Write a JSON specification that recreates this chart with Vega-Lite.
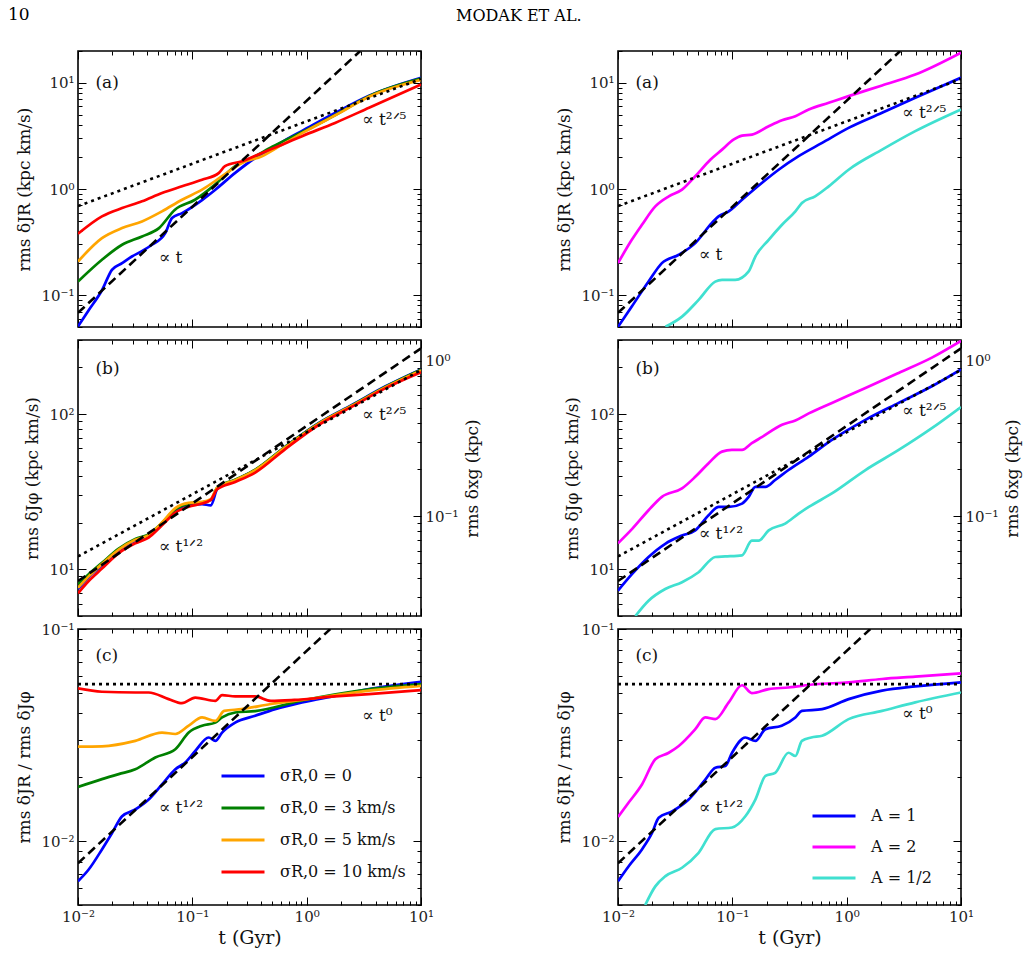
{
"$schema": "https://vega.github.io/schema/vega-lite/v6.json",
"background": "white",
"padding": {"left": 7, "top": 5, "right": 5, "bottom": 5},
"config": {
 "view": {"stroke": "black", "strokeWidth": 1.6},
 "axis": {"labelFont": "DejaVu Serif", "labelFontSize": 15, "labelColor": "#222", "titleFont": "DejaVu Serif", "titleFontSize": 17, "titleFontWeight": "normal", "titleColor": "#111", "tickColor": "black", "tickWidth": 1, "grid": false, "domain": false, "labelOverlap": false, "labelFlush": false, "labelBound": false, "labelPadding": 12, "titlePadding": 7},
 "text": {"font": "DejaVu Serif", "fontSize": 17, "align": "left", "baseline": "middle", "color": "#111"},
 "legend": {"labelFont": "DejaVu Serif", "labelFontSize": 16, "labelColor": "#111"},
 "line": {"interpolate": "monotone"}
},
"datasets": {
 "a1": [
  {"t":0.01,"v":0.0507,"s":"σR,0 = 0"},{"t":0.0124,"v":0.072,"s":"σR,0 = 0"},{"t":0.0162,"v":0.111,"s":"σR,0 = 0"},{"t":0.0198,"v":0.173,"s":"σR,0 = 0"},{"t":0.0243,"v":0.2,"s":"σR,0 = 0"},{"t":0.0296,"v":0.231,"s":"σR,0 = 0"},{"t":0.0363,"v":0.26,"s":"σR,0 = 0"},{"t":0.0443,"v":0.298,"s":"σR,0 = 0"},{"t":0.058,"v":0.384,"s":"σR,0 = 0"},{"t":0.0664,"v":0.532,"s":"σR,0 = 0"},{"t":0.0813,"v":0.593,"s":"σR,0 = 0"},{"t":0.1216,"v":0.787,"s":"σR,0 = 0"},{"t":0.158,"v":0.98,"s":"σR,0 = 0"},{"t":0.237,"v":1.42,"s":"σR,0 = 0"},{"t":0.354,"v":1.96,"s":"σR,0 = 0"},{"t":0.469,"v":2.34,"s":"σR,0 = 0"},{"t":0.702,"v":3.03,"s":"σR,0 = 0"},{"t":0.912,"v":3.53,"s":"σR,0 = 0"},{"t":1.77,"v":5.2,"s":"σR,0 = 0"},{"t":3.51,"v":7.57,"s":"σR,0 = 0"},{"t":10,"v":11.2,"s":"σR,0 = 0"},
  {"t":0.01,"v":0.134,"s":"σR,0 = 3 km/s"},{"t":0.0162,"v":0.215,"s":"σR,0 = 3 km/s"},{"t":0.0243,"v":0.298,"s":"σR,0 = 3 km/s"},{"t":0.0363,"v":0.357,"s":"σR,0 = 3 km/s"},{"t":0.0511,"v":0.428,"s":"σR,0 = 3 km/s"},{"t":0.0705,"v":0.638,"s":"σR,0 = 3 km/s"},{"t":0.1055,"v":0.792,"s":"σR,0 = 3 km/s"},{"t":0.158,"v":1.1,"s":"σR,0 = 3 km/s"},{"t":0.237,"v":1.64,"s":"σR,0 = 3 km/s"},{"t":0.354,"v":2.04,"s":"σR,0 = 3 km/s"},{"t":0.5,"v":2.5,"s":"σR,0 = 3 km/s"},{"t":0.7,"v":3.0,"s":"σR,0 = 3 km/s"},{"t":1,"v":3.6,"s":"σR,0 = 3 km/s"},{"t":2,"v":5.35,"s":"σR,0 = 3 km/s"},{"t":3.5,"v":7.5,"s":"σR,0 = 3 km/s"},{"t":10,"v":11.0,"s":"σR,0 = 3 km/s"},
  {"t":0.01,"v":0.207,"s":"σR,0 = 5 km/s"},{"t":0.0162,"v":0.344,"s":"σR,0 = 5 km/s"},{"t":0.0243,"v":0.428,"s":"σR,0 = 5 km/s"},{"t":0.0363,"v":0.495,"s":"σR,0 = 5 km/s"},{"t":0.0543,"v":0.616,"s":"σR,0 = 5 km/s"},{"t":0.0813,"v":0.792,"s":"σR,0 = 5 km/s"},{"t":0.1216,"v":0.986,"s":"σR,0 = 5 km/s"},{"t":0.182,"v":1.32,"s":"σR,0 = 5 km/s"},{"t":0.272,"v":1.76,"s":"σR,0 = 5 km/s"},{"t":0.406,"v":2.04,"s":"σR,0 = 5 km/s"},{"t":0.611,"v":2.62,"s":"σR,0 = 5 km/s"},{"t":1,"v":3.55,"s":"σR,0 = 5 km/s"},{"t":2,"v":5.3,"s":"σR,0 = 5 km/s"},{"t":3.5,"v":7.4,"s":"σR,0 = 5 km/s"},{"t":10,"v":10.7,"s":"σR,0 = 5 km/s"},
  {"t":0.01,"v":0.378,"s":"σR,0 = 10 km/s"},{"t":0.0162,"v":0.552,"s":"σR,0 = 10 km/s"},{"t":0.0243,"v":0.661,"s":"σR,0 = 10 km/s"},{"t":0.0363,"v":0.765,"s":"σR,0 = 10 km/s"},{"t":0.0543,"v":0.917,"s":"σR,0 = 10 km/s"},{"t":0.0813,"v":1.06,"s":"σR,0 = 10 km/s"},{"t":0.1216,"v":1.22,"s":"σR,0 = 10 km/s"},{"t":0.171,"v":1.42,"s":"σR,0 = 10 km/s"},{"t":0.193,"v":1.64,"s":"σR,0 = 10 km/s"},{"t":0.272,"v":1.83,"s":"σR,0 = 10 km/s"},{"t":0.406,"v":2.19,"s":"σR,0 = 10 km/s"},{"t":0.611,"v":2.62,"s":"σR,0 = 10 km/s"},{"t":0.912,"v":3.15,"s":"σR,0 = 10 km/s"},{"t":1.77,"v":4.2,"s":"σR,0 = 10 km/s"},{"t":3.51,"v":5.83,"s":"σR,0 = 10 km/s"},{"t":10,"v":9.68,"s":"σR,0 = 10 km/s"}
 ],
 "a2": [
  {"t":0.01,"v":0.0502,"s":"A = 1"},{"t":0.0132,"v":0.078,"s":"A = 1"},{"t":0.0185,"v":0.134,"s":"A = 1"},{"t":0.0242,"v":0.2,"s":"A = 1"},{"t":0.034,"v":0.24,"s":"A = 1"},{"t":0.0474,"v":0.309,"s":"A = 1"},{"t":0.066,"v":0.477,"s":"A = 1"},{"t":0.0758,"v":0.552,"s":"A = 1"},{"t":0.093,"v":0.615,"s":"A = 1"},{"t":0.1216,"v":0.793,"s":"A = 1"},{"t":0.181,"v":1.14,"s":"A = 1"},{"t":0.254,"v":1.52,"s":"A = 1"},{"t":0.38,"v":2.04,"s":"A = 1"},{"t":0.61,"v":2.72,"s":"A = 1"},{"t":1.04,"v":3.77,"s":"A = 1"},{"t":2.04,"v":5.23,"s":"A = 1"},{"t":3.98,"v":7.24,"s":"A = 1"},{"t":10,"v":11.2,"s":"A = 1"},
  {"t":0.01,"v":0.2,"s":"A = 2"},{"t":0.0132,"v":0.332,"s":"A = 2"},{"t":0.0162,"v":0.46,"s":"A = 2"},{"t":0.0212,"v":0.686,"s":"A = 2"},{"t":0.0278,"v":0.853,"s":"A = 2"},{"t":0.0363,"v":0.985,"s":"A = 2"},{"t":0.0474,"v":1.32,"s":"A = 2"},{"t":0.0642,"v":1.89,"s":"A = 2"},{"t":0.0813,"v":2.35,"s":"A = 2"},{"t":0.1023,"v":2.92,"s":"A = 2"},{"t":0.1216,"v":3.19,"s":"A = 2"},{"t":0.1487,"v":3.26,"s":"A = 2"},{"t":0.208,"v":3.91,"s":"A = 2"},{"t":0.272,"v":4.45,"s":"A = 2"},{"t":0.356,"v":4.86,"s":"A = 2"},{"t":0.466,"v":5.62,"s":"A = 2"},{"t":0.697,"v":6.5,"s":"A = 2"},{"t":1.04,"v":7.51,"s":"A = 2"},{"t":2.04,"v":9.47,"s":"A = 2"},{"t":3.98,"v":12.0,"s":"A = 2"},{"t":10,"v":19.3,"s":"A = 2"},
  {"t":0.026,"v":0.0502,"s":"A = 1/2"},{"t":0.0363,"v":0.0626,"s":"A = 1/2"},{"t":0.0507,"v":0.09,"s":"A = 1/2"},{"t":0.0709,"v":0.134,"s":"A = 1/2"},{"t":0.0813,"v":0.139,"s":"A = 1/2"},{"t":0.106,"v":0.139,"s":"A = 1/2"},{"t":0.139,"v":0.167,"s":"A = 1/2"},{"t":0.159,"v":0.231,"s":"A = 1/2"},{"t":0.208,"v":0.332,"s":"A = 1/2"},{"t":0.272,"v":0.46,"s":"A = 1/2"},{"t":0.356,"v":0.615,"s":"A = 1/2"},{"t":0.406,"v":0.738,"s":"A = 1/2"},{"t":0.53,"v":0.853,"s":"A = 1/2"},{"t":0.697,"v":1.06,"s":"A = 1/2"},{"t":1.04,"v":1.52,"s":"A = 1/2"},{"t":2.04,"v":2.35,"s":"A = 1/2"},{"t":3.98,"v":3.51,"s":"A = 1/2"},{"t":10,"v":5.62,"s":"A = 1/2"}
 ],
 "b1": [
  {"t":0.01,"v":7.46,"s":"σR,0 = 0"},{"t":0.0124,"v":8.87,"s":"σR,0 = 0"},{"t":0.0162,"v":10.6,"s":"σR,0 = 0"},{"t":0.0227,"v":13.2,"s":"σR,0 = 0"},{"t":0.0317,"v":15.3,"s":"σR,0 = 0"},{"t":0.0415,"v":16.5,"s":"σR,0 = 0"},{"t":0.0543,"v":19.7,"s":"σR,0 = 0"},{"t":0.071,"v":24,"s":"σR,0 = 0"},{"t":0.093,"v":25.9,"s":"σR,0 = 0"},{"t":0.1216,"v":26.3,"s":"σR,0 = 0"},{"t":0.145,"v":25.8,"s":"σR,0 = 0"},{"t":0.165,"v":33,"s":"σR,0 = 0"},{"t":0.18,"v":34.5,"s":"σR,0 = 0"},{"t":0.237,"v":37.6,"s":"σR,0 = 0"},{"t":0.355,"v":43.6,"s":"σR,0 = 0"},{"t":0.65,"v":61.6,"s":"σR,0 = 0"},{"t":1.27,"v":87.5,"s":"σR,0 = 0"},{"t":2.51,"v":115,"s":"σR,0 = 0"},{"t":4.9,"v":151,"s":"σR,0 = 0"},{"t":10,"v":194,"s":"σR,0 = 0"},
  {"t":0.01,"v":8.0,"s":"σR,0 = 3 km/s"},{"t":0.0124,"v":9.3,"s":"σR,0 = 3 km/s"},{"t":0.0162,"v":11.0,"s":"σR,0 = 3 km/s"},{"t":0.0227,"v":13.6,"s":"σR,0 = 3 km/s"},{"t":0.0317,"v":15.7,"s":"σR,0 = 3 km/s"},{"t":0.0415,"v":16.8,"s":"σR,0 = 3 km/s"},{"t":0.0543,"v":19.9,"s":"σR,0 = 3 km/s"},{"t":0.071,"v":24.3,"s":"σR,0 = 3 km/s"},{"t":0.093,"v":26.5,"s":"σR,0 = 3 km/s"},{"t":0.1216,"v":27,"s":"σR,0 = 3 km/s"},{"t":0.145,"v":28,"s":"σR,0 = 3 km/s"},{"t":0.165,"v":33.5,"s":"σR,0 = 3 km/s"},{"t":0.237,"v":37.8,"s":"σR,0 = 3 km/s"},{"t":0.355,"v":43.8,"s":"σR,0 = 3 km/s"},{"t":0.65,"v":61.5,"s":"σR,0 = 3 km/s"},{"t":1.27,"v":87,"s":"σR,0 = 3 km/s"},{"t":2.51,"v":114,"s":"σR,0 = 3 km/s"},{"t":4.9,"v":150,"s":"σR,0 = 3 km/s"},{"t":10,"v":193,"s":"σR,0 = 3 km/s"},
  {"t":0.01,"v":7.6,"s":"σR,0 = 5 km/s"},{"t":0.0124,"v":9.0,"s":"σR,0 = 5 km/s"},{"t":0.0162,"v":10.8,"s":"σR,0 = 5 km/s"},{"t":0.0227,"v":13.4,"s":"σR,0 = 5 km/s"},{"t":0.0317,"v":15.5,"s":"σR,0 = 5 km/s"},{"t":0.0415,"v":16.6,"s":"σR,0 = 5 km/s"},{"t":0.0543,"v":20,"s":"σR,0 = 5 km/s"},{"t":0.071,"v":24.8,"s":"σR,0 = 5 km/s"},{"t":0.093,"v":26.8,"s":"σR,0 = 5 km/s"},{"t":0.1216,"v":27.2,"s":"σR,0 = 5 km/s"},{"t":0.145,"v":28.3,"s":"σR,0 = 5 km/s"},{"t":0.165,"v":33.5,"s":"σR,0 = 5 km/s"},{"t":0.237,"v":37.5,"s":"σR,0 = 5 km/s"},{"t":0.355,"v":43.5,"s":"σR,0 = 5 km/s"},{"t":0.65,"v":61,"s":"σR,0 = 5 km/s"},{"t":1.27,"v":86.5,"s":"σR,0 = 5 km/s"},{"t":2.51,"v":113.5,"s":"σR,0 = 5 km/s"},{"t":4.9,"v":149,"s":"σR,0 = 5 km/s"},{"t":10,"v":191,"s":"σR,0 = 5 km/s"},
  {"t":0.01,"v":7.0,"s":"σR,0 = 10 km/s"},{"t":0.0124,"v":8.4,"s":"σR,0 = 10 km/s"},{"t":0.0162,"v":10.1,"s":"σR,0 = 10 km/s"},{"t":0.0227,"v":12.7,"s":"σR,0 = 10 km/s"},{"t":0.0317,"v":14.7,"s":"σR,0 = 10 km/s"},{"t":0.0415,"v":16.0,"s":"σR,0 = 10 km/s"},{"t":0.0543,"v":19.2,"s":"σR,0 = 10 km/s"},{"t":0.071,"v":23.2,"s":"σR,0 = 10 km/s"},{"t":0.093,"v":25.3,"s":"σR,0 = 10 km/s"},{"t":0.1216,"v":26.5,"s":"σR,0 = 10 km/s"},{"t":0.145,"v":28,"s":"σR,0 = 10 km/s"},{"t":0.165,"v":32.8,"s":"σR,0 = 10 km/s"},{"t":0.237,"v":36.5,"s":"σR,0 = 10 km/s"},{"t":0.355,"v":42,"s":"σR,0 = 10 km/s"},{"t":0.65,"v":59.5,"s":"σR,0 = 10 km/s"},{"t":1.27,"v":85,"s":"σR,0 = 10 km/s"},{"t":2.51,"v":112,"s":"σR,0 = 10 km/s"},{"t":4.9,"v":147,"s":"σR,0 = 10 km/s"},{"t":10,"v":186,"s":"σR,0 = 10 km/s"}
 ],
 "b2": [
  {"t":0.01,"v":7.28,"s":"A = 1"},{"t":0.0133,"v":9.33,"s":"A = 1"},{"t":0.0185,"v":12,"s":"A = 1"},{"t":0.0259,"v":14.6,"s":"A = 1"},{"t":0.0363,"v":16.5,"s":"A = 1"},{"t":0.0474,"v":17.8,"s":"A = 1"},{"t":0.062,"v":22.3,"s":"A = 1"},{"t":0.076,"v":25.2,"s":"A = 1"},{"t":0.093,"v":25.2,"s":"A = 1"},{"t":0.1216,"v":26.5,"s":"A = 1"},{"t":0.139,"v":29.3,"s":"A = 1"},{"t":0.159,"v":34,"s":"A = 1"},{"t":0.195,"v":34,"s":"A = 1"},{"t":0.237,"v":37.6,"s":"A = 1"},{"t":0.31,"v":43.6,"s":"A = 1"},{"t":0.466,"v":53.2,"s":"A = 1"},{"t":0.743,"v":68.2,"s":"A = 1"},{"t":1.46,"v":91.8,"s":"A = 1"},{"t":2.85,"v":118,"s":"A = 1"},{"t":5.56,"v":151,"s":"A = 1"},{"t":10,"v":194,"s":"A = 1"},
  {"t":0.01,"v":14.7,"s":"A = 2"},{"t":0.0133,"v":18.2,"s":"A = 2"},{"t":0.0185,"v":24,"s":"A = 2"},{"t":0.0242,"v":29.3,"s":"A = 2"},{"t":0.0363,"v":33.2,"s":"A = 2"},{"t":0.0474,"v":39.4,"s":"A = 2"},{"t":0.062,"v":48.2,"s":"A = 2"},{"t":0.0812,"v":57.3,"s":"A = 2"},{"t":0.099,"v":58.7,"s":"A = 2"},{"t":0.1216,"v":58.7,"s":"A = 2"},{"t":0.148,"v":64.9,"s":"A = 2"},{"t":0.181,"v":71,"s":"A = 2"},{"t":0.272,"v":85.3,"s":"A = 2"},{"t":0.356,"v":91,"s":"A = 2"},{"t":0.466,"v":101,"s":"A = 2"},{"t":0.743,"v":118,"s":"A = 2"},{"t":1.46,"v":147,"s":"A = 2"},{"t":2.85,"v":184,"s":"A = 2"},{"t":5.56,"v":231,"s":"A = 2"},{"t":10,"v":296,"s":"A = 2"},
  {"t":0.0142,"v":5,"s":"A = 1/2"},{"t":0.0185,"v":6.27,"s":"A = 1/2"},{"t":0.0259,"v":7.46,"s":"A = 1/2"},{"t":0.0363,"v":8.25,"s":"A = 1/2"},{"t":0.0507,"v":9.57,"s":"A = 1/2"},{"t":0.071,"v":12,"s":"A = 1/2"},{"t":0.0866,"v":12.1,"s":"A = 1/2"},{"t":0.1216,"v":12.3,"s":"A = 1/2"},{"t":0.148,"v":15.3,"s":"A = 1/2"},{"t":0.17,"v":15.3,"s":"A = 1/2"},{"t":0.208,"v":17.8,"s":"A = 1/2"},{"t":0.29,"v":19.7,"s":"A = 1/2"},{"t":0.38,"v":22.8,"s":"A = 1/2"},{"t":0.466,"v":25.2,"s":"A = 1/2"},{"t":0.743,"v":30.8,"s":"A = 1/2"},{"t":1.46,"v":43.6,"s":"A = 1/2"},{"t":2.85,"v":58.7,"s":"A = 1/2"},{"t":5.56,"v":81.1,"s":"A = 1/2"},{"t":10,"v":111,"s":"A = 1/2"}
 ],
 "c1": [
  {"t":0.01,"v":0.00647,"s":"σR,0 = 0"},{"t":0.0124,"v":0.00735,"s":"σR,0 = 0"},{"t":0.0162,"v":0.00914,"s":"σR,0 = 0"},{"t":0.0198,"v":0.0109,"s":"σR,0 = 0"},{"t":0.0243,"v":0.0131,"s":"σR,0 = 0"},{"t":0.0317,"v":0.0141,"s":"σR,0 = 0"},{"t":0.0415,"v":0.0157,"s":"σR,0 = 0"},{"t":0.0543,"v":0.0185,"s":"σR,0 = 0"},{"t":0.071,"v":0.0218,"s":"σR,0 = 0"},{"t":0.0868,"v":0.0235,"s":"σR,0 = 0"},{"t":0.106,"v":0.0266,"s":"σR,0 = 0"},{"t":0.139,"v":0.0308,"s":"σR,0 = 0"},{"t":0.159,"v":0.0297,"s":"σR,0 = 0"},{"t":0.182,"v":0.0325,"s":"σR,0 = 0"},{"t":0.237,"v":0.0362,"s":"σR,0 = 0"},{"t":0.355,"v":0.039,"s":"σR,0 = 0"},{"t":0.53,"v":0.0419,"s":"σR,0 = 0"},{"t":0.91,"v":0.0451,"s":"σR,0 = 0"},{"t":1.77,"v":0.0484,"s":"σR,0 = 0"},{"t":3.5,"v":0.0521,"s":"σR,0 = 0"},{"t":10,"v":0.0564,"s":"σR,0 = 0"},
  {"t":0.01,"v":0.018,"s":"σR,0 = 3 km/s"},{"t":0.0162,"v":0.0196,"s":"σR,0 = 3 km/s"},{"t":0.0227,"v":0.0207,"s":"σR,0 = 3 km/s"},{"t":0.0317,"v":0.0218,"s":"σR,0 = 3 km/s"},{"t":0.0474,"v":0.0248,"s":"σR,0 = 3 km/s"},{"t":0.071,"v":0.0271,"s":"σR,0 = 3 km/s"},{"t":0.093,"v":0.0325,"s":"σR,0 = 3 km/s"},{"t":0.1216,"v":0.035,"s":"σR,0 = 3 km/s"},{"t":0.159,"v":0.0362,"s":"σR,0 = 3 km/s"},{"t":0.182,"v":0.0383,"s":"σR,0 = 3 km/s"},{"t":0.237,"v":0.0404,"s":"σR,0 = 3 km/s"},{"t":0.355,"v":0.041,"s":"σR,0 = 3 km/s"},{"t":0.91,"v":0.046,"s":"σR,0 = 3 km/s"},{"t":3.5,"v":0.052,"s":"σR,0 = 3 km/s"},{"t":10,"v":0.055,"s":"σR,0 = 3 km/s"},
  {"t":0.01,"v":0.0279,"s":"σR,0 = 5 km/s"},{"t":0.0162,"v":0.028,"s":"σR,0 = 5 km/s"},{"t":0.0317,"v":0.0297,"s":"σR,0 = 5 km/s"},{"t":0.0543,"v":0.0325,"s":"σR,0 = 5 km/s"},{"t":0.071,"v":0.032,"s":"σR,0 = 5 km/s"},{"t":0.093,"v":0.035,"s":"σR,0 = 5 km/s"},{"t":0.1216,"v":0.0383,"s":"σR,0 = 5 km/s"},{"t":0.159,"v":0.0369,"s":"σR,0 = 5 km/s"},{"t":0.19,"v":0.0411,"s":"σR,0 = 5 km/s"},{"t":0.27,"v":0.0419,"s":"σR,0 = 5 km/s"},{"t":0.486,"v":0.0443,"s":"σR,0 = 5 km/s"},{"t":0.91,"v":0.0463,"s":"σR,0 = 5 km/s"},{"t":3.5,"v":0.0512,"s":"σR,0 = 5 km/s"},{"t":10,"v":0.0539,"s":"σR,0 = 5 km/s"},
  {"t":0.01,"v":0.0525,"s":"σR,0 = 10 km/s"},{"t":0.0162,"v":0.0506,"s":"σR,0 = 10 km/s"},{"t":0.0317,"v":0.0502,"s":"σR,0 = 10 km/s"},{"t":0.0415,"v":0.0502,"s":"σR,0 = 10 km/s"},{"t":0.062,"v":0.0467,"s":"σR,0 = 10 km/s"},{"t":0.081,"v":0.0447,"s":"σR,0 = 10 km/s"},{"t":0.106,"v":0.0475,"s":"σR,0 = 10 km/s"},{"t":0.159,"v":0.0458,"s":"σR,0 = 10 km/s"},{"t":0.182,"v":0.0488,"s":"σR,0 = 10 km/s"},{"t":0.237,"v":0.0481,"s":"σR,0 = 10 km/s"},{"t":0.355,"v":0.0481,"s":"σR,0 = 10 km/s"},{"t":0.486,"v":0.0458,"s":"σR,0 = 10 km/s"},{"t":0.78,"v":0.0463,"s":"σR,0 = 10 km/s"},{"t":1.77,"v":0.0481,"s":"σR,0 = 10 km/s"},{"t":3.5,"v":0.0493,"s":"σR,0 = 10 km/s"},{"t":10,"v":0.0515,"s":"σR,0 = 10 km/s"}
 ],
 "c2": [
  {"t":0.01,"v":0.00647,"s":"A = 1"},{"t":0.0124,"v":0.00762,"s":"A = 1"},{"t":0.0162,"v":0.00914,"s":"A = 1"},{"t":0.0198,"v":0.0109,"s":"A = 1"},{"t":0.0227,"v":0.0129,"s":"A = 1"},{"t":0.0297,"v":0.0138,"s":"A = 1"},{"t":0.0415,"v":0.0157,"s":"A = 1"},{"t":0.058,"v":0.0195,"s":"A = 1"},{"t":0.071,"v":0.0222,"s":"A = 1"},{"t":0.0868,"v":0.0226,"s":"A = 1"},{"t":0.0995,"v":0.0261,"s":"A = 1"},{"t":0.13,"v":0.0308,"s":"A = 1"},{"t":0.159,"v":0.0297,"s":"A = 1"},{"t":0.195,"v":0.0337,"s":"A = 1"},{"t":0.27,"v":0.035,"s":"A = 1"},{"t":0.356,"v":0.0383,"s":"A = 1"},{"t":0.406,"v":0.0411,"s":"A = 1"},{"t":0.61,"v":0.0419,"s":"A = 1"},{"t":1.04,"v":0.0467,"s":"A = 1"},{"t":2.04,"v":0.0512,"s":"A = 1"},{"t":3.98,"v":0.0536,"s":"A = 1"},{"t":10,"v":0.056,"s":"A = 1"},
  {"t":0.01,"v":0.013,"s":"A = 2"},{"t":0.0124,"v":0.0152,"s":"A = 2"},{"t":0.0162,"v":0.0185,"s":"A = 2"},{"t":0.0212,"v":0.0243,"s":"A = 2"},{"t":0.0278,"v":0.0261,"s":"A = 2"},{"t":0.034,"v":0.0281,"s":"A = 2"},{"t":0.0474,"v":0.0337,"s":"A = 2"},{"t":0.058,"v":0.0383,"s":"A = 2"},{"t":0.071,"v":0.0376,"s":"A = 2"},{"t":0.093,"v":0.0451,"s":"A = 2"},{"t":0.1216,"v":0.0543,"s":"A = 2"},{"t":0.148,"v":0.0499,"s":"A = 2"},{"t":0.208,"v":0.0521,"s":"A = 2"},{"t":0.31,"v":0.053,"s":"A = 2"},{"t":0.53,"v":0.0549,"s":"A = 2"},{"t":1.04,"v":0.056,"s":"A = 2"},{"t":2.04,"v":0.0581,"s":"A = 2"},{"t":3.98,"v":0.0596,"s":"A = 2"},{"t":10,"v":0.0618,"s":"A = 2"},
  {"t":0.0173,"v":0.005,"s":"A = 1/2"},{"t":0.0212,"v":0.00612,"s":"A = 1/2"},{"t":0.026,"v":0.00684,"s":"A = 1/2"},{"t":0.0363,"v":0.00749,"s":"A = 1/2"},{"t":0.0507,"v":0.00881,"s":"A = 1/2"},{"t":0.071,"v":0.0114,"s":"A = 1/2"},{"t":0.0995,"v":0.0116,"s":"A = 1/2"},{"t":0.13,"v":0.0131,"s":"A = 1/2"},{"t":0.159,"v":0.0157,"s":"A = 1/2"},{"t":0.195,"v":0.0203,"s":"A = 1/2"},{"t":0.237,"v":0.021,"s":"A = 1/2"},{"t":0.31,"v":0.0261,"s":"A = 1/2"},{"t":0.356,"v":0.0252,"s":"A = 1/2"},{"t":0.406,"v":0.0297,"s":"A = 1/2"},{"t":0.49,"v":0.0308,"s":"A = 1/2"},{"t":0.61,"v":0.0314,"s":"A = 1/2"},{"t":1.04,"v":0.0376,"s":"A = 1/2"},{"t":2.04,"v":0.0411,"s":"A = 1/2"},{"t":3.98,"v":0.0451,"s":"A = 1/2"},{"t":10,"v":0.0502,"s":"A = 1/2"}
 ],
 "ra": [{"t":0.01,"v":0.068,"s":"dashed"},{"t":2.94,"v":20,"s":"dashed"},{"t":0.01,"v":0.69,"s":"dotted"},{"t":10,"v":10.9,"s":"dotted"}],
 "rb": [{"t":0.01,"v":8.4,"s":"dashed"},{"t":10,"v":265,"s":"dashed"},{"t":0.01,"v":12.1,"s":"dotted"},{"t":10,"v":192,"s":"dotted"}],
 "rc": [{"t":0.01,"v":0.00787,"s":"dashed"},{"t":1.61,"v":0.1,"s":"dashed"},{"t":0.01,"v":0.055,"s":"dotted"},{"t":10,"v":0.055,"s":"dotted"}],
 "ta1": [{"t":0.0142,"v":10,"label":"(a)"},{"t":0.0508,"v":0.223,"label":"∝ t"},{"t":3.05,"v":4.52,"label":"∝ t²ᐟ⁵"}],
 "ta2": [{"t":0.0142,"v":10,"label":"(a)"},{"t":0.0508,"v":0.24,"label":"∝ t"},{"t":3.05,"v":5.2,"label":"∝ t²ᐟ⁵"}],
 "tb1": [{"t":0.0142,"v":196,"label":"(b)"},{"t":0.0508,"v":13.9,"label":"∝ t¹ᐟ²"},{"t":3.05,"v":99,"label":"∝ t²ᐟ⁵"}],
 "tb2": [{"t":0.0142,"v":196,"label":"(b)"},{"t":0.0508,"v":16.9,"label":"∝ t¹ᐟ²"},{"t":3.05,"v":104,"label":"∝ t²ᐟ⁵"}],
 "tc1": [{"t":0.0142,"v":0.0748,"label":"(c)"},{"t":0.0508,"v":0.01436,"label":"∝ t¹ᐟ²"},{"t":3.05,"v":0.039,"label":"∝ t⁰"}],
 "tc2": [{"t":0.0142,"v":0.0748,"label":"(c)"},{"t":0.0508,"v":0.01436,"label":"∝ t¹ᐟ²"},{"t":3.05,"v":0.0396,"label":"∝ t⁰"}],
 "xg": [{"t":0.01,"xg":0.03},{"t":10,"xg":1}]
},
"bounds": "flush",
"columns": 2,
"spacing": {"row": 13, "column": 197},
"resolve": {"scale": {"x": "independent", "y": "independent", "color": "independent", "strokeDash": "independent"}},
"concat": [
 {"width": 343, "height": 276,
  "title": {"text": "10", "anchor": "start", "frame": "group", "dx": -70, "offset": 20, "font": "DejaVu Serif", "fontSize": 17, "fontWeight": "normal", "color": "black"},
  "layer": [
   {"data": {"name": "a1"}, "mark": {"type": "line", "strokeWidth": 2.7, "clip": true},
    "encoding": {
     "x": {"field": "t", "type": "quantitative", "scale": {"type": "log", "domain": [0.01, 10]}, "axis": {"orient": "bottom", "values": [0.01,0.02,0.03,0.04,0.05,0.06,0.07,0.08,0.09,0.1,0.2,0.3,0.4,0.5,0.6,0.7,0.8,0.9,1,2,3,4,5,6,7,8,9,10], "labels": false, "title": null, "tickSize": {"condition": {"test": "abs(log(datum.value)/LN10 - round(log(datum.value)/LN10)) < 0.001", "value": -8}, "value": -4}}},
     "y": {"field": "v", "type": "quantitative", "scale": {"type": "log", "domain": [0.05, 20]}, "axis": {"orient": "left", "values": [0.05,0.06,0.07,0.08,0.09,0.1,0.2,0.3,0.4,0.5,0.6,0.7,0.8,0.9,1,2,3,4,5,6,7,8,9,10,20], "title": "rms δJR (kpc km/s)", "labelExpr": "abs(log(datum.value)/LN10 - round(log(datum.value)/LN10)) < 0.001 ? (round(log(datum.value)/LN10) == -2 ? '10⁻²' : round(log(datum.value)/LN10) == -1 ? '10⁻¹' : round(log(datum.value)/LN10) == 0 ? '10⁰' : round(log(datum.value)/LN10) == 1 ? '10¹' : '10²') : ''", "tickSize": {"condition": {"test": "abs(log(datum.value)/LN10 - round(log(datum.value)/LN10)) < 0.001", "value": -8}, "value": -4}}},
     "color": {"field": "s", "type": "nominal", "scale": {"domain": ["σR,0 = 0","σR,0 = 3 km/s","σR,0 = 5 km/s","σR,0 = 10 km/s"], "range": ["#0000ff","#008000","#ffa500","#ff0000"]}, "legend": null}
    }},
   {"data": {"name": "ra"}, "mark": {"type": "line", "color": "black", "strokeWidth": 2.6, "clip": true, "interpolate": "linear"},
    "encoding": {
     "x": {"field": "t", "type": "quantitative", "scale": {"type": "log", "domain": [0.01, 10]}, "axis": {"orient": "top", "values": [0.01,0.02,0.03,0.04,0.05,0.06,0.07,0.08,0.09,0.1,0.2,0.3,0.4,0.5,0.6,0.7,0.8,0.9,1,2,3,4,5,6,7,8,9,10], "labels": false, "title": null, "tickSize": {"condition": {"test": "abs(log(datum.value)/LN10 - round(log(datum.value)/LN10)) < 0.001", "value": -8}, "value": -4}}},
     "y": {"field": "v", "type": "quantitative", "scale": {"type": "log", "domain": [0.05, 20]}, "axis": {"orient": "right", "values": [0.05,0.06,0.07,0.08,0.09,0.1,0.2,0.3,0.4,0.5,0.6,0.7,0.8,0.9,1,2,3,4,5,6,7,8,9,10,20], "labels": false, "title": null, "tickSize": {"condition": {"test": "abs(log(datum.value)/LN10 - round(log(datum.value)/LN10)) < 0.001", "value": -8}, "value": -4}}},
     "strokeDash": {"field": "s", "type": "nominal", "scale": {"domain": ["dashed","dotted"], "range": [[9,5],[3,4]]}, "legend": null}
    }},
   {"data": {"name": "ta1"}, "mark": {"type": "text"},
    "encoding": {
     "x": {"field": "t", "type": "quantitative", "scale": {"type": "log", "domain": [0.01, 10]}, "axis": null},
     "y": {"field": "v", "type": "quantitative", "scale": {"type": "log", "domain": [0.05, 20]}, "axis": null},
     "text": {"field": "label"}
    }}
  ],
  "resolve": {"axis": {"x": "independent", "y": "independent"}}
 },
 {"width": 343, "height": 276,
  "title": {"text": "MODAK ET AL.", "anchor": "start", "frame": "group", "dx": -162, "offset": 20, "font": "DejaVu Serif", "fontSize": 16, "fontWeight": "normal", "color": "black"},
  "layer": [
   {"data": {"name": "a2"}, "mark": {"type": "line", "strokeWidth": 2.7, "clip": true},
    "encoding": {
     "x": {"field": "t", "type": "quantitative", "scale": {"type": "log", "domain": [0.01, 10]}, "axis": {"orient": "bottom", "values": [0.01,0.02,0.03,0.04,0.05,0.06,0.07,0.08,0.09,0.1,0.2,0.3,0.4,0.5,0.6,0.7,0.8,0.9,1,2,3,4,5,6,7,8,9,10], "labels": false, "title": null, "tickSize": {"condition": {"test": "abs(log(datum.value)/LN10 - round(log(datum.value)/LN10)) < 0.001", "value": -8}, "value": -4}}},
     "y": {"field": "v", "type": "quantitative", "scale": {"type": "log", "domain": [0.05, 20]}, "axis": {"orient": "left", "values": [0.05,0.06,0.07,0.08,0.09,0.1,0.2,0.3,0.4,0.5,0.6,0.7,0.8,0.9,1,2,3,4,5,6,7,8,9,10,20], "title": "rms δJR (kpc km/s)", "labelExpr": "abs(log(datum.value)/LN10 - round(log(datum.value)/LN10)) < 0.001 ? (round(log(datum.value)/LN10) == -2 ? '10⁻²' : round(log(datum.value)/LN10) == -1 ? '10⁻¹' : round(log(datum.value)/LN10) == 0 ? '10⁰' : round(log(datum.value)/LN10) == 1 ? '10¹' : '10²') : ''", "tickSize": {"condition": {"test": "abs(log(datum.value)/LN10 - round(log(datum.value)/LN10)) < 0.001", "value": -8}, "value": -4}}},
     "color": {"field": "s", "type": "nominal", "scale": {"domain": ["A = 1","A = 2","A = 1/2"], "range": ["#0000ff","#ff00ff","#40e0d0"]}, "legend": null}
    }},
   {"data": {"name": "ra"}, "mark": {"type": "line", "color": "black", "strokeWidth": 2.6, "clip": true, "interpolate": "linear"},
    "encoding": {
     "x": {"field": "t", "type": "quantitative", "scale": {"type": "log", "domain": [0.01, 10]}, "axis": {"orient": "top", "values": [0.01,0.02,0.03,0.04,0.05,0.06,0.07,0.08,0.09,0.1,0.2,0.3,0.4,0.5,0.6,0.7,0.8,0.9,1,2,3,4,5,6,7,8,9,10], "labels": false, "title": null, "tickSize": {"condition": {"test": "abs(log(datum.value)/LN10 - round(log(datum.value)/LN10)) < 0.001", "value": -8}, "value": -4}}},
     "y": {"field": "v", "type": "quantitative", "scale": {"type": "log", "domain": [0.05, 20]}, "axis": {"orient": "right", "values": [0.05,0.06,0.07,0.08,0.09,0.1,0.2,0.3,0.4,0.5,0.6,0.7,0.8,0.9,1,2,3,4,5,6,7,8,9,10,20], "labels": false, "title": null, "tickSize": {"condition": {"test": "abs(log(datum.value)/LN10 - round(log(datum.value)/LN10)) < 0.001", "value": -8}, "value": -4}}},
     "strokeDash": {"field": "s", "type": "nominal", "scale": {"domain": ["dashed","dotted"], "range": [[9,5],[3,4]]}, "legend": null}
    }},
   {"data": {"name": "ta2"}, "mark": {"type": "text"},
    "encoding": {
     "x": {"field": "t", "type": "quantitative", "scale": {"type": "log", "domain": [0.01, 10]}, "axis": null},
     "y": {"field": "v", "type": "quantitative", "scale": {"type": "log", "domain": [0.05, 20]}, "axis": null},
     "text": {"field": "label"}
    }}
  ],
  "resolve": {"axis": {"x": "independent", "y": "independent"}}
 },
 {"width": 343, "height": 276,
  "layer": [
   {"data": {"name": "b1"}, "mark": {"type": "line", "strokeWidth": 2.7, "clip": true},
    "encoding": {
     "x": {"field": "t", "type": "quantitative", "scale": {"type": "log", "domain": [0.01, 10]}, "axis": {"orient": "bottom", "values": [0.01,0.02,0.03,0.04,0.05,0.06,0.07,0.08,0.09,0.1,0.2,0.3,0.4,0.5,0.6,0.7,0.8,0.9,1,2,3,4,5,6,7,8,9,10], "labels": false, "title": null, "tickSize": {"condition": {"test": "abs(log(datum.value)/LN10 - round(log(datum.value)/LN10)) < 0.001", "value": -8}, "value": -4}}},
     "y": {"field": "v", "type": "quantitative", "scale": {"type": "log", "domain": [5, 300]}, "axis": {"orient": "left", "values": [5,6,7,8,9,10,20,30,40,50,60,70,80,90,100,200,300], "title": "rms δJφ (kpc km/s)", "labelExpr": "abs(log(datum.value)/LN10 - round(log(datum.value)/LN10)) < 0.001 ? (round(log(datum.value)/LN10) == -2 ? '10⁻²' : round(log(datum.value)/LN10) == -1 ? '10⁻¹' : round(log(datum.value)/LN10) == 0 ? '10⁰' : round(log(datum.value)/LN10) == 1 ? '10¹' : '10²') : ''", "tickSize": {"condition": {"test": "abs(log(datum.value)/LN10 - round(log(datum.value)/LN10)) < 0.001", "value": -8}, "value": -4}}},
     "color": {"field": "s", "type": "nominal", "scale": {"domain": ["σR,0 = 0","σR,0 = 3 km/s","σR,0 = 5 km/s","σR,0 = 10 km/s"], "range": ["#0000ff","#008000","#ffa500","#ff0000"]}, "legend": null}
    }},
   {"data": {"name": "rb"}, "mark": {"type": "line", "color": "black", "strokeWidth": 2.6, "clip": true, "interpolate": "linear"},
    "encoding": {
     "x": {"field": "t", "type": "quantitative", "scale": {"type": "log", "domain": [0.01, 10]}, "axis": {"orient": "top", "values": [0.01,0.02,0.03,0.04,0.05,0.06,0.07,0.08,0.09,0.1,0.2,0.3,0.4,0.5,0.6,0.7,0.8,0.9,1,2,3,4,5,6,7,8,9,10], "labels": false, "title": null, "tickSize": {"condition": {"test": "abs(log(datum.value)/LN10 - round(log(datum.value)/LN10)) < 0.001", "value": -8}, "value": -4}}},
     "y": {"field": "v", "type": "quantitative", "scale": {"type": "log", "domain": [5, 300]}, "axis": null},
     "strokeDash": {"field": "s", "type": "nominal", "scale": {"domain": ["dashed","dotted"], "range": [[9,5],[3,4]]}, "legend": null}
    }},
   {"data": {"name": "tb1"}, "mark": {"type": "text"},
    "encoding": {
     "x": {"field": "t", "type": "quantitative", "scale": {"type": "log", "domain": [0.01, 10]}, "axis": null},
     "y": {"field": "v", "type": "quantitative", "scale": {"type": "log", "domain": [5, 300]}, "axis": null},
     "text": {"field": "label"}
    }},
   {"data": {"name": "xg"}, "mark": {"type": "point", "opacity": 0},
    "encoding": {
     "x": {"field": "t", "type": "quantitative", "scale": {"type": "log", "domain": [0.01, 10]}, "axis": null},
     "y": {"field": "xg", "type": "quantitative", "scale": {"type": "log", "domain": [0.022727, 1.363636]}, "axis": {"orient": "right", "values": [0.03,0.04,0.05,0.06,0.07,0.08,0.09,0.1,0.2,0.3,0.4,0.5,0.6,0.7,0.8,0.9,1], "title": "rms δxg (kpc)", "titleAngle": -90, "titleBaseline": "top", "titlePadding": 6, "labelExpr": "abs(log(datum.value)/LN10 - round(log(datum.value)/LN10)) < 0.001 ? (round(log(datum.value)/LN10) == -2 ? '10⁻²' : round(log(datum.value)/LN10) == -1 ? '10⁻¹' : round(log(datum.value)/LN10) == 0 ? '10⁰' : round(log(datum.value)/LN10) == 1 ? '10¹' : '10²') : ''", "tickSize": {"condition": {"test": "abs(log(datum.value)/LN10 - round(log(datum.value)/LN10)) < 0.001", "value": -8}, "value": -4}}}
    }}
  ],
  "resolve": {"scale": {"y": "independent"}, "axis": {"x": "independent", "y": "independent"}}
 },
 {"width": 343, "height": 276,
  "layer": [
   {"data": {"name": "b2"}, "mark": {"type": "line", "strokeWidth": 2.7, "clip": true},
    "encoding": {
     "x": {"field": "t", "type": "quantitative", "scale": {"type": "log", "domain": [0.01, 10]}, "axis": {"orient": "bottom", "values": [0.01,0.02,0.03,0.04,0.05,0.06,0.07,0.08,0.09,0.1,0.2,0.3,0.4,0.5,0.6,0.7,0.8,0.9,1,2,3,4,5,6,7,8,9,10], "labels": false, "title": null, "tickSize": {"condition": {"test": "abs(log(datum.value)/LN10 - round(log(datum.value)/LN10)) < 0.001", "value": -8}, "value": -4}}},
     "y": {"field": "v", "type": "quantitative", "scale": {"type": "log", "domain": [5, 300]}, "axis": {"orient": "left", "values": [5,6,7,8,9,10,20,30,40,50,60,70,80,90,100,200,300], "title": "rms δJφ (kpc km/s)", "labelExpr": "abs(log(datum.value)/LN10 - round(log(datum.value)/LN10)) < 0.001 ? (round(log(datum.value)/LN10) == -2 ? '10⁻²' : round(log(datum.value)/LN10) == -1 ? '10⁻¹' : round(log(datum.value)/LN10) == 0 ? '10⁰' : round(log(datum.value)/LN10) == 1 ? '10¹' : '10²') : ''", "tickSize": {"condition": {"test": "abs(log(datum.value)/LN10 - round(log(datum.value)/LN10)) < 0.001", "value": -8}, "value": -4}}},
     "color": {"field": "s", "type": "nominal", "scale": {"domain": ["A = 1","A = 2","A = 1/2"], "range": ["#0000ff","#ff00ff","#40e0d0"]}, "legend": null}
    }},
   {"data": {"name": "rb"}, "mark": {"type": "line", "color": "black", "strokeWidth": 2.6, "clip": true, "interpolate": "linear"},
    "encoding": {
     "x": {"field": "t", "type": "quantitative", "scale": {"type": "log", "domain": [0.01, 10]}, "axis": {"orient": "top", "values": [0.01,0.02,0.03,0.04,0.05,0.06,0.07,0.08,0.09,0.1,0.2,0.3,0.4,0.5,0.6,0.7,0.8,0.9,1,2,3,4,5,6,7,8,9,10], "labels": false, "title": null, "tickSize": {"condition": {"test": "abs(log(datum.value)/LN10 - round(log(datum.value)/LN10)) < 0.001", "value": -8}, "value": -4}}},
     "y": {"field": "v", "type": "quantitative", "scale": {"type": "log", "domain": [5, 300]}, "axis": null},
     "strokeDash": {"field": "s", "type": "nominal", "scale": {"domain": ["dashed","dotted"], "range": [[9,5],[3,4]]}, "legend": null}
    }},
   {"data": {"name": "tb2"}, "mark": {"type": "text"},
    "encoding": {
     "x": {"field": "t", "type": "quantitative", "scale": {"type": "log", "domain": [0.01, 10]}, "axis": null},
     "y": {"field": "v", "type": "quantitative", "scale": {"type": "log", "domain": [5, 300]}, "axis": null},
     "text": {"field": "label"}
    }},
   {"data": {"name": "xg"}, "mark": {"type": "point", "opacity": 0},
    "encoding": {
     "x": {"field": "t", "type": "quantitative", "scale": {"type": "log", "domain": [0.01, 10]}, "axis": null},
     "y": {"field": "xg", "type": "quantitative", "scale": {"type": "log", "domain": [0.022727, 1.363636]}, "axis": {"orient": "right", "values": [0.03,0.04,0.05,0.06,0.07,0.08,0.09,0.1,0.2,0.3,0.4,0.5,0.6,0.7,0.8,0.9,1], "title": "rms δxg (kpc)", "titleAngle": -90, "titleBaseline": "top", "titlePadding": 6, "labelExpr": "abs(log(datum.value)/LN10 - round(log(datum.value)/LN10)) < 0.001 ? (round(log(datum.value)/LN10) == -2 ? '10⁻²' : round(log(datum.value)/LN10) == -1 ? '10⁻¹' : round(log(datum.value)/LN10) == 0 ? '10⁰' : round(log(datum.value)/LN10) == 1 ? '10¹' : '10²') : ''", "tickSize": {"condition": {"test": "abs(log(datum.value)/LN10 - round(log(datum.value)/LN10)) < 0.001", "value": -8}, "value": -4}}}
    }}
  ],
  "resolve": {"scale": {"y": "independent"}, "axis": {"x": "independent", "y": "independent"}}
 },
 {"width": 343, "height": 276,
  "layer": [
   {"data": {"name": "c1"}, "mark": {"type": "line", "strokeWidth": 2.7, "clip": true},
    "encoding": {
     "x": {"field": "t", "type": "quantitative", "scale": {"type": "log", "domain": [0.01, 10]}, "axis": {"orient": "bottom", "values": [0.01,0.02,0.03,0.04,0.05,0.06,0.07,0.08,0.09,0.1,0.2,0.3,0.4,0.5,0.6,0.7,0.8,0.9,1,2,3,4,5,6,7,8,9,10], "title": "t (Gyr)", "titleFontSize": 19, "titlePadding": 0, "labelExpr": "abs(log(datum.value)/LN10 - round(log(datum.value)/LN10)) < 0.001 ? (round(log(datum.value)/LN10) == -2 ? '10⁻²' : round(log(datum.value)/LN10) == -1 ? '10⁻¹' : round(log(datum.value)/LN10) == 0 ? '10⁰' : round(log(datum.value)/LN10) == 1 ? '10¹' : '10²') : ''", "tickSize": {"condition": {"test": "abs(log(datum.value)/LN10 - round(log(datum.value)/LN10)) < 0.001", "value": -8}, "value": -4}}},
     "y": {"field": "v", "type": "quantitative", "scale": {"type": "log", "domain": [0.005, 0.1]}, "axis": {"orient": "left", "values": [0.005,0.006,0.007,0.008,0.009,0.01,0.02,0.03,0.04,0.05,0.06,0.07,0.08,0.09,0.1], "title": "rms δJR / rms δJφ", "labelExpr": "abs(log(datum.value)/LN10 - round(log(datum.value)/LN10)) < 0.001 ? (round(log(datum.value)/LN10) == -2 ? '10⁻²' : round(log(datum.value)/LN10) == -1 ? '10⁻¹' : round(log(datum.value)/LN10) == 0 ? '10⁰' : round(log(datum.value)/LN10) == 1 ? '10¹' : '10²') : ''", "tickSize": {"condition": {"test": "abs(log(datum.value)/LN10 - round(log(datum.value)/LN10)) < 0.001", "value": -8}, "value": -4}}},
     "color": {"field": "s", "type": "nominal", "scale": {"domain": ["σR,0 = 0","σR,0 = 3 km/s","σR,0 = 5 km/s","σR,0 = 10 km/s"], "range": ["#0000ff","#008000","#ffa500","#ff0000"]}, "legend": {"orient": "none", "legendX": 142, "legendY": 124, "title": null, "symbolType": "stroke", "symbolSize": 1849, "symbolStrokeWidth": 3, "labelOffset": 14, "rowPadding": 1}}
    }},
   {"data": {"name": "rc"}, "mark": {"type": "line", "color": "black", "strokeWidth": 2.6, "clip": true, "interpolate": "linear"},
    "encoding": {
     "x": {"field": "t", "type": "quantitative", "scale": {"type": "log", "domain": [0.01, 10]}, "axis": {"orient": "top", "values": [0.01,0.02,0.03,0.04,0.05,0.06,0.07,0.08,0.09,0.1,0.2,0.3,0.4,0.5,0.6,0.7,0.8,0.9,1,2,3,4,5,6,7,8,9,10], "labels": false, "title": null, "tickSize": {"condition": {"test": "abs(log(datum.value)/LN10 - round(log(datum.value)/LN10)) < 0.001", "value": -8}, "value": -4}}},
     "y": {"field": "v", "type": "quantitative", "scale": {"type": "log", "domain": [0.005, 0.1]}, "axis": {"orient": "right", "values": [0.005,0.006,0.007,0.008,0.009,0.01,0.02,0.03,0.04,0.05,0.06,0.07,0.08,0.09,0.1], "labels": false, "title": null, "tickSize": {"condition": {"test": "abs(log(datum.value)/LN10 - round(log(datum.value)/LN10)) < 0.001", "value": -8}, "value": -4}}},
     "strokeDash": {"field": "s", "type": "nominal", "scale": {"domain": ["dashed","dotted"], "range": [[9,5],[3,4]]}, "legend": null}
    }},
   {"data": {"name": "tc1"}, "mark": {"type": "text"},
    "encoding": {
     "x": {"field": "t", "type": "quantitative", "scale": {"type": "log", "domain": [0.01, 10]}, "axis": null},
     "y": {"field": "v", "type": "quantitative", "scale": {"type": "log", "domain": [0.005, 0.1]}, "axis": null},
     "text": {"field": "label"}
    }}
  ],
  "resolve": {"axis": {"x": "independent", "y": "independent"}}
 },
 {"width": 343, "height": 276,
  "layer": [
   {"data": {"name": "c2"}, "mark": {"type": "line", "strokeWidth": 2.7, "clip": true},
    "encoding": {
     "x": {"field": "t", "type": "quantitative", "scale": {"type": "log", "domain": [0.01, 10]}, "axis": {"orient": "bottom", "values": [0.01,0.02,0.03,0.04,0.05,0.06,0.07,0.08,0.09,0.1,0.2,0.3,0.4,0.5,0.6,0.7,0.8,0.9,1,2,3,4,5,6,7,8,9,10], "title": "t (Gyr)", "titleFontSize": 19, "titlePadding": 0, "labelExpr": "abs(log(datum.value)/LN10 - round(log(datum.value)/LN10)) < 0.001 ? (round(log(datum.value)/LN10) == -2 ? '10⁻²' : round(log(datum.value)/LN10) == -1 ? '10⁻¹' : round(log(datum.value)/LN10) == 0 ? '10⁰' : round(log(datum.value)/LN10) == 1 ? '10¹' : '10²') : ''", "tickSize": {"condition": {"test": "abs(log(datum.value)/LN10 - round(log(datum.value)/LN10)) < 0.001", "value": -8}, "value": -4}}},
     "y": {"field": "v", "type": "quantitative", "scale": {"type": "log", "domain": [0.005, 0.1]}, "axis": {"orient": "left", "values": [0.005,0.006,0.007,0.008,0.009,0.01,0.02,0.03,0.04,0.05,0.06,0.07,0.08,0.09,0.1], "title": "rms δJR / rms δJφ", "labelExpr": "abs(log(datum.value)/LN10 - round(log(datum.value)/LN10)) < 0.001 ? (round(log(datum.value)/LN10) == -2 ? '10⁻²' : round(log(datum.value)/LN10) == -1 ? '10⁻¹' : round(log(datum.value)/LN10) == 0 ? '10⁰' : round(log(datum.value)/LN10) == 1 ? '10¹' : '10²') : ''", "tickSize": {"condition": {"test": "abs(log(datum.value)/LN10 - round(log(datum.value)/LN10)) < 0.001", "value": -8}, "value": -4}}},
     "color": {"field": "s", "type": "nominal", "scale": {"domain": ["A = 1","A = 2","A = 1/2"], "range": ["#0000ff","#ff00ff","#40e0d0"]}, "legend": {"orient": "none", "legendX": 193, "legendY": 164, "title": null, "symbolType": "stroke", "symbolSize": 1849, "symbolStrokeWidth": 3, "labelOffset": 14, "rowPadding": -5}}
    }},
   {"data": {"name": "rc"}, "mark": {"type": "line", "color": "black", "strokeWidth": 2.6, "clip": true, "interpolate": "linear"},
    "encoding": {
     "x": {"field": "t", "type": "quantitative", "scale": {"type": "log", "domain": [0.01, 10]}, "axis": {"orient": "top", "values": [0.01,0.02,0.03,0.04,0.05,0.06,0.07,0.08,0.09,0.1,0.2,0.3,0.4,0.5,0.6,0.7,0.8,0.9,1,2,3,4,5,6,7,8,9,10], "labels": false, "title": null, "tickSize": {"condition": {"test": "abs(log(datum.value)/LN10 - round(log(datum.value)/LN10)) < 0.001", "value": -8}, "value": -4}}},
     "y": {"field": "v", "type": "quantitative", "scale": {"type": "log", "domain": [0.005, 0.1]}, "axis": {"orient": "right", "values": [0.005,0.006,0.007,0.008,0.009,0.01,0.02,0.03,0.04,0.05,0.06,0.07,0.08,0.09,0.1], "labels": false, "title": null, "tickSize": {"condition": {"test": "abs(log(datum.value)/LN10 - round(log(datum.value)/LN10)) < 0.001", "value": -8}, "value": -4}}},
     "strokeDash": {"field": "s", "type": "nominal", "scale": {"domain": ["dashed","dotted"], "range": [[9,5],[3,4]]}, "legend": null}
    }},
   {"data": {"name": "tc2"}, "mark": {"type": "text"},
    "encoding": {
     "x": {"field": "t", "type": "quantitative", "scale": {"type": "log", "domain": [0.01, 10]}, "axis": null},
     "y": {"field": "v", "type": "quantitative", "scale": {"type": "log", "domain": [0.005, 0.1]}, "axis": null},
     "text": {"field": "label"}
    }}
  ],
  "resolve": {"axis": {"x": "independent", "y": "independent"}}
 }
]
}
